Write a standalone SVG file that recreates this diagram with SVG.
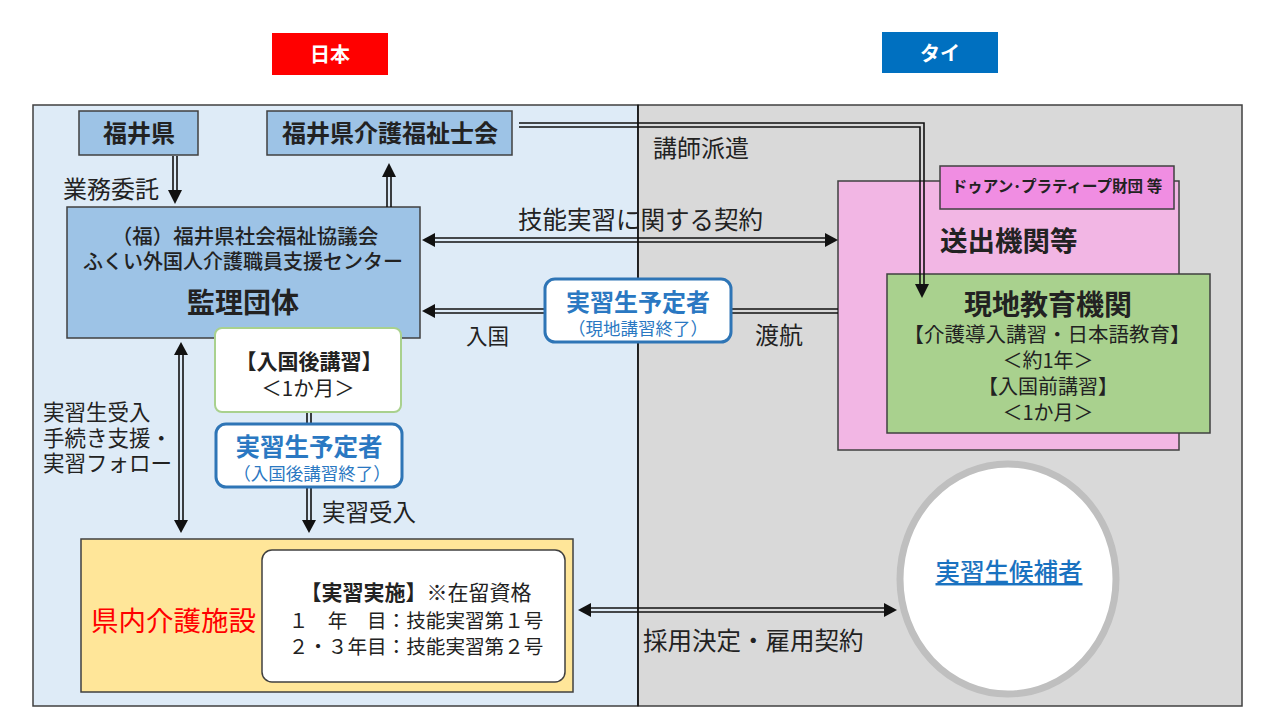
<svg xmlns="http://www.w3.org/2000/svg" width="1280" height="720" viewBox="0 0 1280 720">
<style>
text{font-family:"Noto Sans CJK JP","Noto Sans",sans-serif;fill:#222;}
.b{font-weight:bold;}
.box{stroke:#404040;stroke-width:1.5;}
.blue{fill:#9dc3e6;}
.ln{stroke:#111;stroke-width:1.6;fill:none;}
.hd{fill:#111;}
.plan{fill:#fff;stroke:#2e75b6;stroke-width:3;}
.bt{fill:#2a78c2;}
.c{text-anchor:middle;}
</style>
<rect width="1280" height="720" fill="#fff"/>
<g id="labels">
<rect x="272" y="33" width="116" height="42" fill="#ff0000"/>
<text x="330" y="62" class="b c" font-size="20" style="fill:#fff">日本</text>
<rect x="882" y="32" width="116" height="41" fill="#0070c0"/>
<text x="940" y="61" class="b c" font-size="20" style="fill:#fff">タイ</text>
</g>
<g id="panels">
<rect x="33" y="105" width="605" height="601" fill="#deebf7" stroke="#404040" stroke-width="1.5"/>
<rect x="638" y="105" width="604" height="601" fill="#d9d9d9" stroke="#404040" stroke-width="1.5"/>
<line x1="638" y1="105" x2="638" y2="706" stroke="#111" stroke-width="1.5"/>
</g>
<g id="fukui">
<rect x="79" y="111" width="119" height="44" class="box blue"/>
<text x="139" y="142" class="b c" font-size="24">福井県</text>
</g>
<g id="kaigofukushishikai">
<rect x="267" y="111" width="245" height="44" class="box blue"/>
<text x="390" y="142" class="b c" font-size="24">福井県介護福祉士会</text>
</g>
<g id="kanri">
<rect x="67" y="207" width="353" height="131" class="box blue"/>
<text x="245" y="244" class="c" font-size="20.5" font-weight="500">（福）福井県社会福祉協議会</text>
<text x="243" y="269" class="c" font-size="20" font-weight="500">ふくい外国人介護職員支援センター</text>
<text x="243" y="313" class="b c" font-size="28">監理団体</text>
</g>
<g id="okuridashi">
<rect x="838" y="181" width="341" height="269" fill="#f2b6e4" class="box"/>
<rect x="940" y="166" width="234" height="43" fill="#f08de2" class="box"/>
<text x="1057" y="192" class="c" font-size="15.5" font-weight="bold">ドゥアン･プラティープ財団 等</text>
<text x="940" y="251" class="b" font-size="27.5">送出機関等</text>
</g>
<g id="genchi">
<rect x="887" y="274" width="323" height="159" fill="#a9d18e" class="box"/>
<text x="1048" y="315" class="b c" font-size="28">現地教育機関</text>
<text x="1047" y="342" class="c" font-size="20.5">【介護導入講習・日本語教育】</text>
<text x="1048" y="368" class="c" font-size="20">＜約1年＞</text>
<text x="1048" y="394" class="c" font-size="20">【入国前講習】</text>
<text x="1048" y="420" class="c" font-size="20">＜1か月＞</text>
</g>
<g id="kennai">
<rect x="81" y="539" width="492" height="153" fill="#ffe699" class="box"/>
<text x="91" y="631" font-size="27.5" style="fill:#ff0000">県内介護施設</text>
<rect x="262" y="550" width="303" height="132" rx="10" fill="#fff" stroke="#404040" stroke-width="1.5"/>
<text x="416" y="600" class="c" font-size="21"><tspan class="b">【実習実施】</tspan>※在留資格</text>
<text x="416" y="628" class="c" font-size="19.6">１　年　目：技能実習第１号</text>
<text x="416" y="654" class="c" font-size="19.6">２・３年目：技能実習第２号</text>
</g>
<g id="kohosha">
<ellipse cx="1008" cy="579" rx="108" ry="115" fill="#fff" stroke="#bfbfbf" stroke-width="7"/>
<text x="1009" y="581" class="c" font-size="24.5" font-weight="500" text-decoration="underline" style="fill:#1a72c0">実習生候補者</text>
</g>
<g id="connectors">
<line x1="173" y1="156" x2="173" y2="191" class="ln"/><line x1="177" y1="156" x2="177" y2="191" class="ln"/>
<polygon points="175,204 168,190 182,190" class="hd"/>
<line x1="387" y1="207" x2="387" y2="176" class="ln"/><line x1="391" y1="207" x2="391" y2="176" class="ln"/>
<polygon points="389,163 382,177 396,177" class="hd"/>
<polyline points="519,123 924,123 924,285" class="ln"/><polyline points="519,127 920,127 920,285" class="ln"/>
<polygon points="922,298 915,284 929,284" class="hd"/>
<line x1="434" y1="238" x2="826" y2="238" class="ln"/><line x1="434" y1="242" x2="826" y2="242" class="ln"/>
<polygon points="422,240 435,233 435,247" class="hd"/><polygon points="838,240 825,233 825,247" class="hd"/>
<line x1="434" y1="309" x2="838" y2="309" class="ln"/><line x1="434" y1="313" x2="838" y2="313" class="ln"/>
<polygon points="422,311 435,304 435,318" class="hd"/>
<line x1="179" y1="354" x2="179" y2="521" class="ln"/><line x1="183" y1="354" x2="183" y2="521" class="ln"/>
<polygon points="181,342 174,355 188,355" class="hd"/><polygon points="181,533 174,520 188,520" class="hd"/>
<line x1="307" y1="412" x2="307" y2="424" class="ln"/><line x1="311" y1="412" x2="311" y2="424" class="ln"/>
<line x1="307" y1="487" x2="307" y2="521" class="ln"/><line x1="311" y1="487" x2="311" y2="521" class="ln"/>
<polygon points="309,533 302,520 316,520" class="hd"/>
<line x1="590" y1="608" x2="885" y2="608" class="ln"/><line x1="590" y1="612" x2="885" y2="612" class="ln"/>
<polygon points="578,610 591,603 591,617" class="hd"/><polygon points="897,610 884,603 884,617" class="hd"/>
</g>
<g id="connector-labels">
<text x="63" y="198" font-size="24">業務委託</text>
<text x="653" y="157" font-size="24">講師派遣</text>
<text x="518" y="229" font-size="24.5">技能実習に関する契約</text>
<text x="466" y="344" font-size="21.5">入国</text>
<text x="755" y="344" font-size="24">渡航</text>
<text x="43" y="420" font-size="21.5">実習生受入</text>
<text x="43" y="446" font-size="21.5">手続き支援・</text>
<text x="43" y="471" font-size="21.5">実習フォロー</text>
<text x="322" y="521" font-size="23.5">実習受入</text>
<text x="643" y="650" font-size="24.5">採用決定・雇用契約</text>
</g>
<g id="plan1">
<rect x="545" y="279" width="186" height="63" rx="10" class="plan"/>
<text x="638" y="311" class="b c bt" font-size="24">実習生予定者</text>
<text x="638" y="335" class="c bt" font-size="17.5">（現地講習終了）</text>
</g>
<g id="nyukokugo">
<rect x="215" y="328" width="186" height="84" rx="7" fill="#fff" stroke="#a9d18e" stroke-width="2"/>
<text x="309" y="369" class="b c" font-size="21">【入国後講習】</text>
<text x="308" y="396" class="c" font-size="20.5">＜1か月＞</text>
</g>
<g id="plan2">
<rect x="216" y="424" width="186" height="63" rx="10" class="plan"/>
<text x="309" y="456" class="b c bt" font-size="24.5">実習生予定者</text>
<text x="312" y="480" class="c bt" font-size="17.5">（入国後講習終了）</text>
</g>
</svg>
